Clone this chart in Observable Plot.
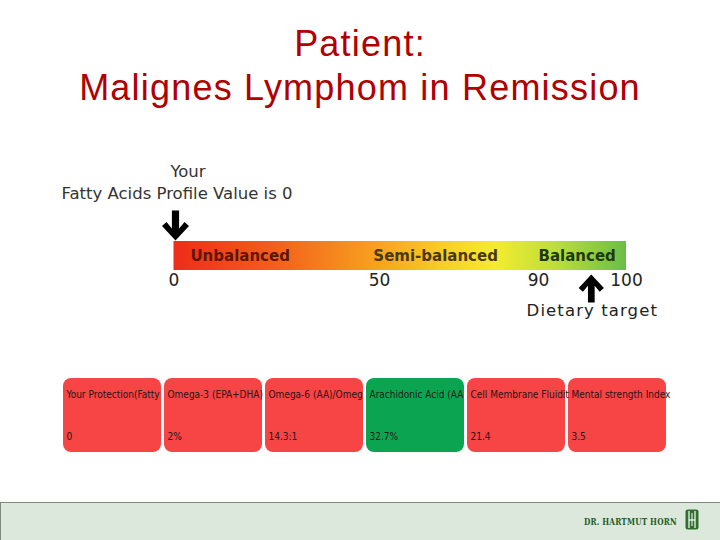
<!DOCTYPE html>
<html>
<head>
<meta charset="utf-8">
<script src="https://cdn.jsdelivr.net/npm/d3@7"></script>
<script src="https://cdn.jsdelivr.net/npm/@observablehq/plot@0.6"></script>
<style>
  html, body { margin: 0; padding: 0; background: #ffffff; }
  #page { position: relative; width: 720px; height: 540px; overflow: hidden; background: #ffffff; }
  #title { position: absolute; left: 0; top: 22px; width: 720px; text-align: center;
           font-family: "Liberation Sans", Arial, sans-serif; font-size: 36px; line-height: 44px;
           color: #b00000; letter-spacing: 1.2px; }
  #gauge { position: absolute; left: 0; top: 140px; }
  #cards { position: absolute; left: 0; top: 370px; }
  #footer { position: absolute; left: 0; top: 502px; width: 719px; height: 38px;
            background: #dce8dc; border-top: 1px solid #7d8c7d; border-left: 1px solid #7d8c7d; }
  #brand { position: absolute; right: 43px; top: 14px; font-family: "DejaVu Serif", "Liberation Serif", serif;
           font-weight: bold; font-size: 8.5px; letter-spacing: 0.2px; color: #1d5e1d;
           transform: scaleX(0.86); transform-origin: right center; white-space: nowrap; }
  #logo { position: absolute; left: 684px; top: 6px; }
</style>
</head>
<body>
<div id="page">
  <div id="title"></div>
  <div id="gauge"></div>
  <div id="cards"></div>
  <div id="footer">
    <div id="brand"></div>
    <svg id="logo" width="14" height="21" viewBox="0 0 14 21">
      <rect x="0.5" y="0.5" width="13" height="20" rx="2" fill="#2f6f2f"/>
      <line x1="4" y1="2" x2="4" y2="19" stroke="#ffffff" stroke-width="1.2"/>
      <line x1="10" y1="2" x2="10" y2="19" stroke="#ffffff" stroke-width="1.2"/>
      <line x1="4" y1="11" x2="10" y2="11" stroke="#ffffff" stroke-width="1.2"/>
      <line x1="7" y1="4" x2="7" y2="17" stroke="#ffffff" stroke-width="1"/>
    </svg>
  </div>
</div>
<script>
// ---------------- data ----------------
const titleLines = ["Patient:", "Malignes Lymphom in Remission"];
const profileValue = 0;
const dietaryTarget = 96;
const scaleTicks = [0, 50, 90, 100];
const zoneNames = ["Unbalanced", "Semi-balanced", "Balanced"];
const zoneStarts = [4, 48.5, 90];
const cardNames = ["Your Protection(Fatty", "Omega-3 (EPA+DHA)", "Omega-6 (AA)/Omeg",
                   "Arachidonic Acid (AA", "Cell Membrane Fluidit", "Mental strength Index"];
const cardValues = ["0", "2%", "14.3:1", "32.7%", "21.4", "3.5"];
const cardStatus = ["out", "out", "out", "in", "out", "out"];
const brandName = "DR. HARTMUT HORN";

// ---------------- title & footer text ----------------
document.getElementById("title").innerHTML = titleLines.map(t => `<div>${t}</div>`).join("");
document.getElementById("brand").textContent = brandName;

// ---------------- arrow symbols ----------------
function arrowSymbol(dir) {
  // dir = 1 points down, -1 points up; unit shape is 30px tall when r = 15
  const pts = [[-3.6, -15], [3.6, -15], [3.6, 3], [9, -3.5], [13.5, 0.5], [0, 15],
               [-13.5, 0.5], [-9, -3.5], [-3.6, 3]];
  return {
    draw(context, size) {
      const k = Math.sqrt(size / Math.PI) / 15;
      pts.forEach(([px, py], i) => {
        const X = px * k, Y = py * k * dir;
        if (i === 0) context.moveTo(X, Y); else context.lineTo(X, Y);
      });
      context.closePath();
    }
  };
}

// ---------------- gauge ----------------
const zones = zoneNames.map((name, i) => ({name, start: zoneStarts[i]}));
const zoneFill = {"Unbalanced": "#5e1608", "Semi-balanced": "#4a3810", "Balanced": "#1d3a0e"};
const font = "DejaVu Sans, Verdana, sans-serif";

const gauge = Plot.plot({
  width: 720,
  height: 200,
  marginTop: 101,
  marginBottom: 70,
  marginLeft: 0,
  marginRight: 0,
  x: {type: "linear", domain: scaleTicks, range: [173.5, 379, 538, 626], axis: null},
  color: {type: "identity"},
  style: {overflow: "visible", background: "transparent"},
  marks: [
    Plot.rect([{lo: scaleTicks[0], hi: scaleTicks[scaleTicks.length - 1]}],
      {x1: "lo", x2: "hi", fill: "#f0a020"}),
    Plot.text(zones, {x: "start", text: "name", textAnchor: "start", frameAnchor: "middle",
      fontFamily: font, fontWeight: "bold", fontSize: 15, fill: d => zoneFill[d.name]}),
    Plot.text(scaleTicks, {x: d => d, text: d => String(d), frameAnchor: "bottom", dy: 15,
      fontFamily: font, fontSize: 17, fill: "#222222"}),
    Plot.text([profileValue], {x: d => d, text: () => "Your", frameAnchor: "top", dy: -76, dx: 14,
      fontFamily: font, fontSize: 16.5, fill: "#333333"}),
    Plot.text([profileValue], {x: d => d, text: d => `Fatty Acids Profile Value is ${d}`,
      frameAnchor: "top", dy: -54, dx: 3, fontFamily: font, fontSize: 16.5, fill: "#333333"}),
    Plot.dot([profileValue], {x: d => d, frameAnchor: "top", dy: -16, dx: 1.5, r: 15,
      symbol: arrowSymbol(1), fill: "#000000", stroke: "none"}),
    Plot.dot([dietaryTarget], {x: d => d, frameAnchor: "bottom", dy: 18, r: 14,
      symbol: arrowSymbol(-1), fill: "#000000", stroke: "none"}),
    Plot.text([dietaryTarget], {x: d => d, text: () => "Dietary target", frameAnchor: "bottom",
      dy: 45, dx: 1, fontFamily: font, fontSize: 16.5, fill: "#222222"})
  ]
});

// gradient fill for the gauge bar
const gsvg = d3.select(gauge);
const grad = gsvg.insert("defs", ":first-child").append("linearGradient")
  .attr("id", "gaugeGrad").attr("x1", "0").attr("x2", "1").attr("y1", "0").attr("y2", "0");
[["0%", "#ee2c1a"], ["22%", "#f35e1c"], ["45%", "#f7a21f"], ["60%", "#f8cf27"],
 ["71%", "#f4ec30"], ["85%", "#badd3c"], ["100%", "#6bbd48"]]
  .forEach(([o, c]) => grad.append("stop").attr("offset", o).attr("stop-color", c));
gsvg.selectAll('g[aria-label="rect"] rect').attr("fill", "url(#gaugeGrad)");
gsvg.selectAll("text").filter(function () { return this.textContent === "Dietary target"; })
  .attr("letter-spacing", "1.1px");
document.getElementById("gauge").appendChild(gauge);

// ---------------- cards ----------------
const cardData = cardNames.map((name, i) => ({name, value: cardValues[i], status: cardStatus[i]}));
const cardFont = "DejaVu Sans Condensed, DejaVu Sans, sans-serif";

const cards = Plot.plot({
  width: 720,
  height: 90,
  marginTop: 8,
  marginBottom: 8,
  marginLeft: 62,
  marginRight: 54,
  x: {domain: cardNames, paddingInner: 0.03, paddingOuter: 0, axis: null},
  color: {domain: ["out", "in"], range: ["#f74444", "#0ba552"]},
  style: {overflow: "visible", background: "transparent"},
  marks: [
    Plot.cell(cardData, {x: "name", fill: "status", rx: 8, inset: 0}),
    Plot.text(cardData, {x: "name", text: "name", frameAnchor: "top", dy: 12, dx: -46,
      textAnchor: "start", fontFamily: cardFont, fontSize: 10, fill: "#2a1414"}),
    Plot.text(cardData, {x: "name", text: "value", frameAnchor: "bottom", dy: -13, dx: -46,
      textAnchor: "start", fontFamily: cardFont, fontSize: 10, fill: "#2a1414"})
  ]
});
document.getElementById("cards").appendChild(cards);
</script>
</body>
</html>
